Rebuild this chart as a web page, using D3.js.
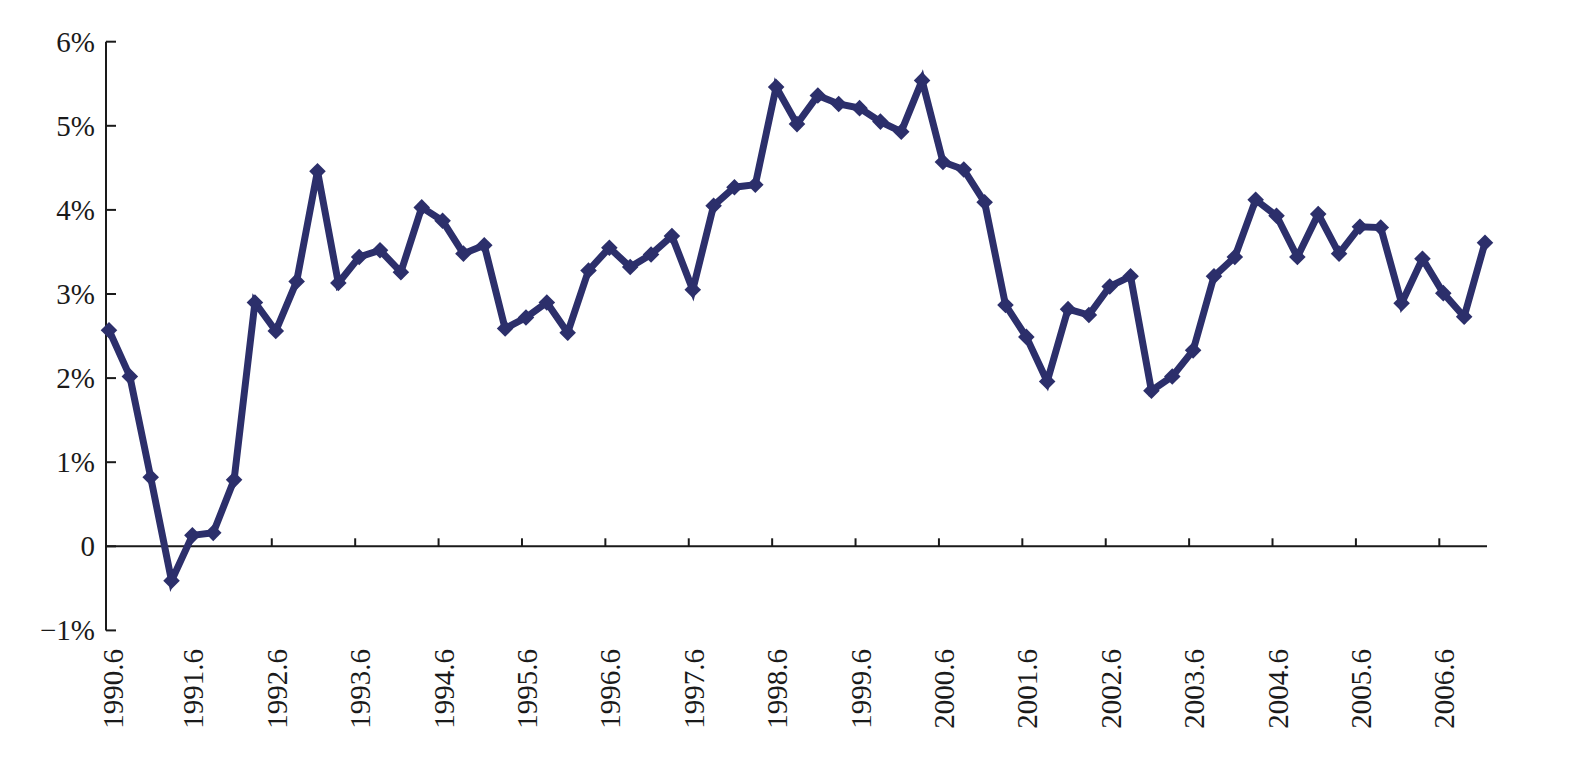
<!DOCTYPE html>
<html>
<head>
<meta charset="utf-8">
<script src="https://cdn.jsdelivr.net/npm/d3@7"></script>
<style>
  html, body { margin: 0; padding: 0; background: #fff; }
  svg { display: block; }
  text { font-family: "Liberation Serif", "Times New Roman", serif; fill: #1a1a1a; }
</style>
</head>
<body>
<svg id="chart" width="1586" height="762"></svg>
<script>
// Quarterly periods 1990.6 … 2006.12
const periods = [];
for (let yr = 1990; yr <= 2006; yr++) {
  for (const m of [3, 6, 9, 12]) {
    if (yr === 1990 && m < 6) continue;
    periods.push(yr + "." + m);
  }
}

const values = [
  2.57, 2.02, 0.82, -0.41, 0.13, 0.16, 0.79, 2.90,
  2.56, 3.15, 4.46, 3.13, 3.44, 3.52, 3.26, 4.03,
  3.87, 3.48, 3.58, 2.59, 2.72, 2.90, 2.54, 3.28,
  3.55, 3.32, 3.47, 3.69, 3.05, 4.05, 4.27, 4.30,
  5.46, 5.02, 5.36, 5.26, 5.21, 5.05, 4.93, 5.54,
  4.57, 4.48, 4.09, 2.87, 2.49, 1.96, 2.82, 2.75,
  3.09, 3.21, 1.85, 2.02, 2.33, 3.21, 3.44, 4.12,
  3.93, 3.44, 3.95, 3.48, 3.80, 3.79, 2.89, 3.42,
  3.01, 2.73, 3.61
];

const xTickLabels = ["1990.6","1991.6","1992.6","1993.6","1994.6","1995.6","1996.6","1997.6",
  "1998.6","1999.6","2000.6","2001.6","2002.6","2003.6","2004.6","2005.6","2006.6"];

const yTicks = [-1, 0, 1, 2, 3, 4, 5, 6];
const yTickLabels = ["\u22121%", "0", "1%", "2%", "3%", "4%", "5%", "6%"];

const svg = d3.select("#chart");
const axisX = 106, axisEnd = 1487, mTop = 41.7, mBottom = 630.4;

const x = d3.scaleLinear().domain([0, periods.length - 1]).range([109, 1485]);
const y = d3.scaleLinear().domain([-1, 6]).range([mBottom, mTop]);

const navy = "#2c2f6b";
const axisColor = "#1a1a1a";

// Y axis
const yAxisG = svg.append("g");
yAxisG.append("line")
  .attr("x1", axisX).attr("x2", axisX)
  .attr("y1", y(6)).attr("y2", y(-1))
  .attr("stroke", axisColor).attr("stroke-width", 2);
yAxisG.selectAll("line.tick").data(yTicks).enter().append("line")
  .attr("class", "tick")
  .attr("x1", axisX).attr("x2", axisX + 10)
  .attr("y1", d => y(d)).attr("y2", d => y(d))
  .attr("stroke", axisColor).attr("stroke-width", 2);
yAxisG.selectAll("text").data(yTicks).enter().append("text")
  .attr("x", 95)
  .attr("y", d => y(d))
  .attr("dy", "0.34em")
  .attr("text-anchor", "end")
  .attr("font-size", 29)
  .text((d, i) => yTickLabels[i]);

// X axis
const xAxisG = svg.append("g");
xAxisG.append("line")
  .attr("x1", axisX).attr("x2", axisEnd)
  .attr("y1", y(0)).attr("y2", y(0))
  .attr("stroke", axisColor).attr("stroke-width", 2);

const tickIdx = xTickLabels.map(l => periods.indexOf(l));
const tickX = d => (d === 0 ? axisX : x(d) - 4);
xAxisG.selectAll("line.tick").data(tickIdx.slice(1)).enter().append("line")
  .attr("class", "tick")
  .attr("x1", tickX).attr("x2", tickX)
  .attr("y1", y(0)).attr("y2", y(0) - 8)
  .attr("stroke", axisColor).attr("stroke-width", 2);

xAxisG.selectAll("text").data(tickIdx).enter().append("text")
  .attr("transform", d => {
    const cx = Math.max(tickX(d) + 5, 113);
    return `translate(${cx + 10},649) rotate(-90)`;
  })
  .attr("text-anchor", "end")
  .attr("font-size", 29)
  .text((d, i) => xTickLabels[i]);

// Line
const line = d3.line()
  .x((d, i) => x(i))
  .y(d => y(d));

svg.append("path")
  .datum(values)
  .attr("fill", "none")
  .attr("stroke", navy)
  .attr("stroke-width", 7)
  .attr("stroke-linejoin", "miter")
  .attr("d", line);

// Diamond markers
const sym = d3.symbol().type(d3.symbolDiamond2).size(175);
svg.selectAll("path.marker").data(values).enter().append("path")
  .attr("class", "marker")
  .attr("transform", (d, i) => `translate(${x(i)},${y(d)})`)
  .attr("d", sym)
  .attr("fill", navy);
</script>
</body>
</html>
